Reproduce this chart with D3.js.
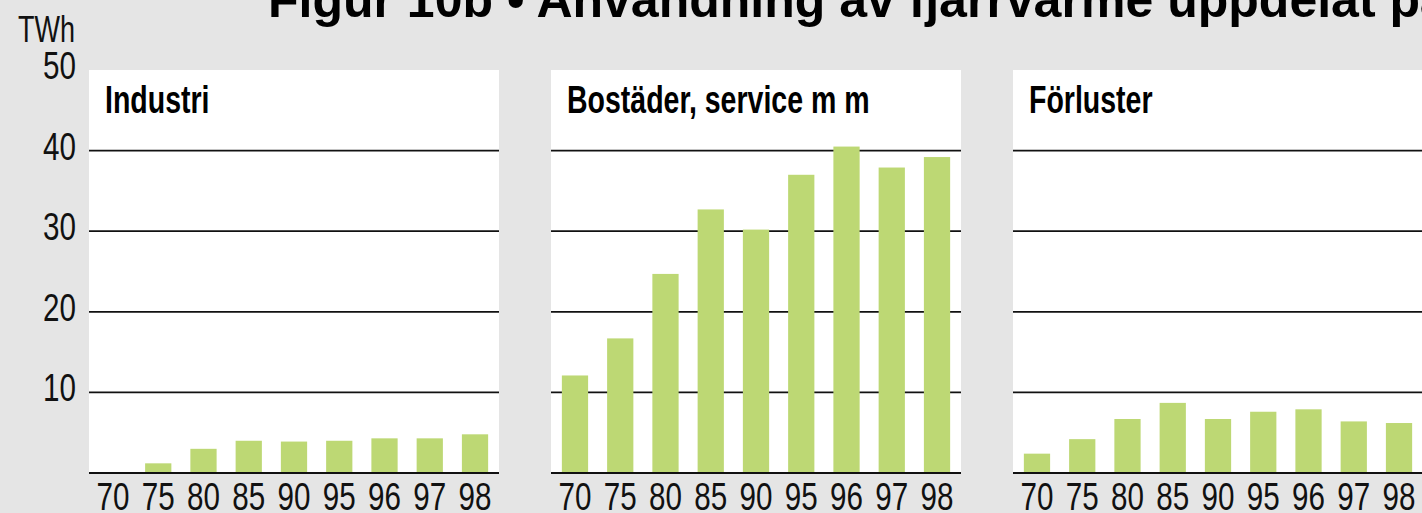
<!DOCTYPE html>
<html>
<head>
<meta charset="utf-8">
<script src="https://cdn.jsdelivr.net/npm/d3@7"></script>
<style>
  html, body { margin: 0; padding: 0; background: #e5e5e5; }
  svg { display: block; }
  text { font-family: "Liberation Sans", Arial, sans-serif; }
</style>
</head>
<body>
<svg id="chart" width="1422" height="513"></svg>
<script>
// ---- data ----
const titleText = "Figur 10b • Användning av fjärrvärme uppdelat på sektorer";
const unitLabel = "TWh";
const years = ["70", "75", "80", "85", "90", "95", "96", "97", "98"];
const panelNames = ["Industri", "Bostäder, service m m", "Förluster"];
const industri = [0, 1.2, 3.0, 4.0, 3.9, 4.0, 4.3, 4.3, 4.8];
const bostader = [12.1, 16.7, 24.7, 32.7, 30.2, 37.0, 40.5, 37.9, 39.2];
const forluster = [2.4, 4.2, 6.7, 8.7, 6.7, 7.6, 7.9, 6.4, 6.2];
const yTicks = [10, 20, 30, 40, 50];
const gridValues = [0, 10, 20, 30, 40];
const seriesList = [industri, bostader, forluster];

// ---- layout ----
const W = 1422, H = 513;
const panelLeft = [89, 551, 1013];
const panelWidth = 410;
const topY = 70, baseY = 473;
const barColor = "#bdd874";
const bg = "#e5e5e5";
const sx = 0.76; // horizontal compression to mimic condensed face

const svg = d3.select("#chart");
svg.append("rect").attr("width", W).attr("height", H).attr("fill", bg);

const y = d3.scaleLinear().domain([0, 50]).range([baseY, topY]);

// title
svg.append("g").attr("transform", "translate(268,17)")
  .append("text")
  .attr("font-size", 50).attr("font-weight", "bold").attr("fill", "#000")
  .text(titleText);

// unit
svg.append("g").attr("transform", `translate(75,41.5) scale(0.73,1)`)
  .append("text")
  .attr("text-anchor", "end").attr("font-size", 37).attr("fill", "#111")
  .text(unitLabel);

// y axis labels
const yAxis = d3.axisLeft(y).tickValues(yTicks).tickSize(0).tickFormat(d3.format("d"));
const yg = svg.append("g").attr("transform", "translate(76,0)").call(yAxis);
yg.select(".domain").remove();
yg.selectAll(".tick text")
  .attr("x", 0).attr("dy", 0).attr("y", 0)
  .attr("transform", `translate(0,8.5) scale(${sx},1)`)
  .attr("font-size", 39).attr("fill", "#111")
  .attr("font-family", "Liberation Sans, Arial, sans-serif")
  .attr("text-anchor", "end");

// panels
seriesList.forEach((vals, i) => {
  const x0 = panelLeft[i];
  const g = svg.append("g");
  g.append("rect")
    .attr("x", x0).attr("y", topY)
    .attr("width", panelWidth).attr("height", baseY - topY)
    .attr("fill", "#fff");

  const x = d3.scaleBand().domain(years)
    .range([x0, x0 + panelWidth]).paddingInner(0.42).paddingOuter(0.24);

  // grid lines
  g.selectAll("line.grid").data(gridValues).join("line")
    .attr("class", "grid")
    .attr("x1", x0).attr("x2", x0 + panelWidth)
    .attr("y1", d => y(d)).attr("y2", d => y(d))
    .attr("stroke", "#111").attr("stroke-width", 1.8);

  // bars
  g.selectAll("rect.bar").data(vals.map((v, j) => ({ yr: years[j], v })))
    .join("rect")
    .attr("class", "bar")
    .attr("x", d => x(d.yr)).attr("width", x.bandwidth())
    .attr("y", d => y(d.v)).attr("height", d => y(0) - y(d.v))
    .attr("fill", barColor);

  // baseline on top
  g.append("line")
    .attr("x1", x0).attr("x2", x0 + panelWidth)
    .attr("y1", y(0)).attr("y2", y(0))
    .attr("stroke", "#111").attr("stroke-width", 2);

  // x axis labels
  const xAxis = d3.axisBottom(x).tickSize(0);
  const xg = g.append("g").attr("transform", `translate(0,${baseY})`).call(xAxis);
  xg.select(".domain").remove();
  xg.selectAll(".tick text")
    .attr("y", 0).attr("dy", 0)
    .attr("transform", `translate(0,37) scale(${sx},1)`)
    .attr("font-size", 39).attr("fill", "#111")
    .attr("font-family", "Liberation Sans, Arial, sans-serif");

  // panel header
  g.append("g").attr("transform", `translate(${x0 + 16},112.5) scale(0.75,1)`)
    .append("text")
    .attr("font-size", 38).attr("font-weight", "bold").attr("fill", "#000")
    .text(panelNames[i]);
});
</script>
</body>
</html>
